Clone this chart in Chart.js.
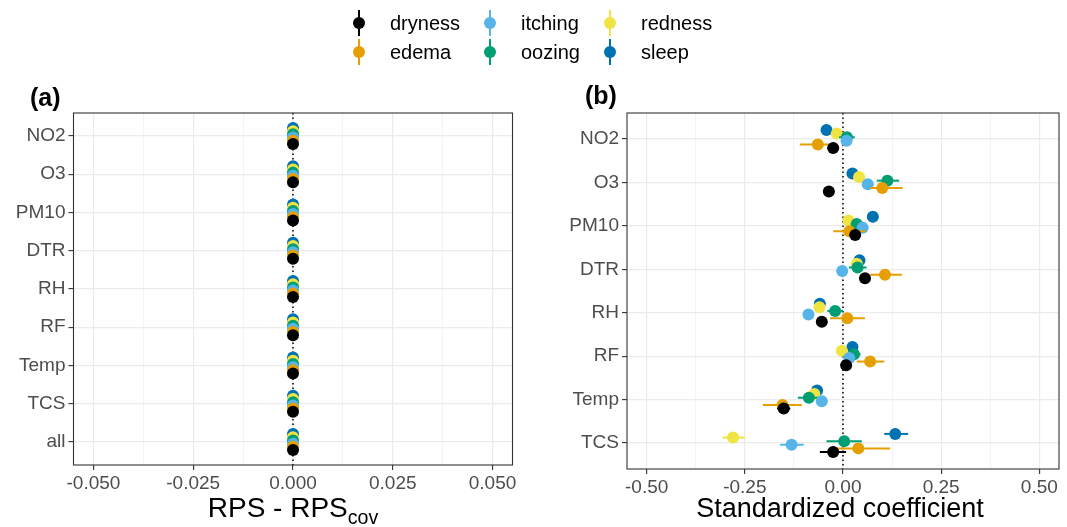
<!DOCTYPE html>
<html>
<head>
<meta charset="utf-8">
<script src="https://cdn.jsdelivr.net/npm/chart.js@4.4.0/dist/chart.umd.min.js"></script>
<style>
  body { margin: 0; background: #fff; font-family: "Liberation Sans", Arial, sans-serif; }
  #page { position: relative; width: 1067px; height: 527px; overflow: hidden; }
  .box { position: absolute; top: 0; height: 527px; }
  .txt { position: absolute; white-space: nowrap; color: #000; }
  .key { position: absolute; width: 12px; height: 26px; }
  .key .bar { position: absolute; left: 5px; top: 0; width: 2px; height: 26px; }
  .key .dot { position: absolute; left: 0; top: 7px; width: 12px; height: 12px; border-radius: 50%; }
</style>
</head>
<body>
<div id="page">
  <div class="box" style="left:0;width:530px"><canvas id="chartA"></canvas></div>
  <div class="box" style="left:530px;width:537px"><canvas id="chartB"></canvas></div>
  <div id="legend"></div>
  <div class="txt" style="left:30px;top:82px;font-size:25px;font-weight:bold;line-height:30px">(a)</div>
  <div class="txt" style="left:585px;top:80px;font-size:25px;font-weight:bold;line-height:30px">(b)</div>
  <div class="txt" style="left:293px;top:494px;font-size:28px;line-height:28px;transform:translateX(-50%)">RPS - RPS<span style="font-size:0.7em;position:relative;top:0.35em">cov</span></div>
  <div class="txt" style="left:840px;top:494px;font-size:27px;line-height:28px;transform:translateX(-50%)">Standardized coefficient</div>
</div>
<script>
// categories
const catsA = ['NO2', 'O3', 'PM10', 'DTR', 'RH', 'RF', 'Temp', 'TCS', 'all'];
const catsB = ['NO2', 'O3', 'PM10', 'DTR', 'RH', 'RF', 'Temp', 'TCS'];
const seriesNames = ['dryness', 'edema', 'itching', 'oozing', 'redness', 'sleep'];
const seriesColors = ['#000000', '#E69F00', '#56B4E9', '#009E73', '#F0E442', '#0072B2'];

// x tick labels
const ticksA = [-0.05, -0.025, 0, 0.025, 0.05];
const ticksB = [-0.5, -0.25, 0, 0.25, 0.5];

// panel (a): RPS - RPScov (all ~0)
const drynessA = [0, 0, 0, 0, 0, 0, 0, 0, 0];
const edemaA   = [0, 0, 0, 0, 0, 0, 0, 0, 0];
const itchingA = [0, 0, 0, 0, 0, 0, 0, 0, 0];
const oozingA  = [0, 0, 0, 0, 0, 0, 0, 0, 0];
const rednessA = [0, 0, 0, 0, 0, 0, 0, 0, 0];
const sleepA   = [0, 0, 0, 0, 0, 0, 0, 0, 0];

// panel (b): standardized coefficients, with lower / upper limits
const drynessB  = [-0.025, -0.036, 0.031, 0.056, -0.054, 0.008, -0.151, -0.025];
const drynessLo = [-0.040, -0.050, 0.017, 0.042, -0.068, -0.006, -0.168, -0.059];
const drynessHi = [-0.010, -0.022, 0.045, 0.070, -0.040, 0.022, -0.134, 0.008];

const edemaB  = [-0.064, 0.100, 0.016, 0.107, 0.011, 0.069, -0.154, 0.039];
const edemaLo = [-0.110, 0.069, -0.025, 0.069, -0.033, 0.035, -0.204, -0.033];
const edemaHi = [-0.020, 0.152, 0.057, 0.150, 0.056, 0.105, -0.105, 0.120];

const itchingB  = [0.009, 0.063, 0.050, -0.002, -0.088, 0.016, -0.054, -0.131];
const itchingLo = [-0.005, 0.050, 0.036, -0.016, -0.102, 0.002, -0.068, -0.160];
const itchingHi = [0.023, 0.077, 0.064, 0.012, -0.074, 0.030, -0.040, -0.100];

const oozingB  = [0.010, 0.113, 0.035, 0.037, -0.020, 0.028, -0.087, 0.003];
const oozingLo = [-0.010, 0.086, 0.020, 0.015, -0.040, 0.012, -0.115, -0.042];
const oozingHi = [0.030, 0.143, 0.050, 0.060, 0.000, 0.045, -0.060, 0.048];

const rednessB  = [-0.016, 0.041, 0.014, 0.035, -0.060, -0.003, -0.073, -0.280];
const rednessLo = [-0.030, 0.027, 0.000, 0.021, -0.074, -0.017, -0.087, -0.307];
const rednessHi = [-0.002, 0.055, 0.028, 0.049, -0.046, 0.011, -0.059, -0.250];

const sleepB  = [-0.042, 0.024, 0.076, 0.042, -0.059, 0.024, -0.066, 0.133];
const sleepLo = [-0.055, 0.010, 0.062, 0.028, -0.073, 0.010, -0.080, 0.105];
const sleepHi = [-0.029, 0.038, 0.090, 0.056, -0.045, 0.038, -0.052, 0.166];

const DODGE = 0.5;

// legend (html, two rows, column-major)
const legend = document.getElementById('legend');
seriesNames.forEach((name, i) => {
    const col = Math.floor(i / 2), row = i % 2;
    const kx = [359, 490, 610][col], ky = [23, 52][row];
    const key = document.createElement('div');
    key.className = 'key';
    key.style.left = (kx - 6) + 'px';
    key.style.top = (ky - 13) + 'px';
    key.innerHTML = '<div class="bar" style="background:' + seriesColors[i] + '"></div>' +
        '<div class="dot" style="background:' + seriesColors[i] + '"></div>';
    legend.appendChild(key);
    const t = document.createElement('div');
    t.className = 'txt';
    t.style.left = (kx + 31) + 'px';
    t.style.top = (ky - 12) + 'px';
    t.style.fontSize = '20px';
    t.style.lineHeight = '24px';
    t.textContent = name;
    legend.appendChild(t);
});

// zero line, error bars and panel border
const panelDecor = {
    id: 'panelDecor',
    beforeDatasetsDraw(chart) {
        const {ctx, chartArea: a, scales: {x}} = chart;
        const px = x.getPixelForValue(0);
        ctx.save();
        ctx.strokeStyle = '#000';
        ctx.lineWidth = 1.5;
        ctx.setLineDash([1.5, 3]);
        ctx.beginPath();
        ctx.moveTo(px, a.top);
        ctx.lineTo(px, a.bottom);
        ctx.stroke();
        ctx.restore();
    },
    beforeDatasetDraw(chart, args) {
        const ds = chart.data.datasets[args.index];
        if (!ds.errLo) return;
        const {ctx, scales: {x, y}} = chart;
        ctx.save();
        ctx.strokeStyle = ds.backgroundColor;
        ctx.lineWidth = 2;
        ds.data.forEach((p, j) => {
            const py = y.getPixelForValue(p.y);
            ctx.beginPath();
            ctx.moveTo(x.getPixelForValue(ds.errLo[j]), py);
            ctx.lineTo(x.getPixelForValue(ds.errHi[j]), py);
            ctx.stroke();
        });
        ctx.restore();
    },
    afterDraw(chart) {
        const {ctx, chartArea: a} = chart;
        ctx.save();
        ctx.strokeStyle = '#333333';
        ctx.lineWidth = 1.1;
        ctx.strokeRect(a.left, a.top, a.right - a.left, a.bottom - a.top);
        ctx.restore();
    }
};

function makeChart(id, cats, vals, los, his, majors, lim, digits, yWidth, xHeight, padRight) {
    const datasets = seriesNames.map((name, i) => ({
        label: name,
        data: vals[i].map((v, j) => ({x: v, y: j + (2.5 - i) * DODGE / 6})),
        errLo: los ? los[i] : null,
        errHi: his ? his[i] : null,
        backgroundColor: seriesColors[i],
        borderWidth: 0,
        pointRadius: 6,
        pointHoverRadius: 6
    }));
    return new Chart(document.getElementById(id), {
        type: 'scatter',
        data: {datasets: datasets},
        plugins: [panelDecor],
        options: {
            responsive: true,
            maintainAspectRatio: false,
            animation: false,
            events: [],
            layout: {padding: {top: 113, right: padRight, left: 0, bottom: 0}},
            plugins: {legend: {display: false}, tooltip: {enabled: false}},
            scales: {
                x: {
                    type: 'linear',
                    min: -lim,
                    max: lim,
                    afterBuildTicks: scale => {
                        const t = [];
                        majors.forEach((m, k) => {
                            t.push({value: m});
                            if (k < majors.length - 1) t.push({value: (m + majors[k + 1]) / 2});
                        });
                        scale.ticks = t;
                    },
                    afterFit: scale => { scale.height = xHeight; },
                    border: {display: false},
                    grid: {
                        color: '#ebebeb',
                        lineWidth: c => (c.index % 2 === 0 ? 1.2 : 0.6),
                        tickColor: c => (c.index % 2 === 0 ? '#333333' : 'rgba(0,0,0,0)'),
                        tickWidth: 1.1,
                        tickLength: 5
                    },
                    ticks: {
                        autoSkip: false,
                        maxRotation: 0,
                        padding: 2,
                        color: '#4d4d4d',
                        font: {family: 'Liberation Sans', size: 19},
                        callback: (v, i) => (i % 2 === 0 ? v.toFixed(digits) : '')
                    }
                },
                y: {
                    type: 'linear',
                    reverse: true,
                    min: -0.6,
                    max: cats.length - 1 + 0.6,
                    afterBuildTicks: scale => {
                        scale.ticks = cats.map((c, i) => ({value: i}));
                    },
                    afterFit: scale => { scale.width = yWidth; },
                    border: {display: false},
                    grid: {
                        color: '#ebebeb',
                        lineWidth: 1.2,
                        tickColor: '#333333',
                        tickWidth: 1.1,
                        tickLength: 5
                    },
                    ticks: {
                        autoSkip: false,
                        padding: 3,
                        color: '#4d4d4d',
                        font: {family: 'Liberation Sans', size: 19},
                        callback: v => cats[Math.round(v)]
                    }
                }
            }
        }
    });
}

makeChart('chartA', catsA,
    [drynessA, edemaA, itchingA, oozingA, rednessA, sleepA], null, null,
    ticksA, 0.055, 3, 73.5, 62, 17.5);

makeChart('chartB', catsB,
    [drynessB, edemaB, itchingB, oozingB, rednessB, sleepB],
    [drynessLo, edemaLo, itchingLo, oozingLo, rednessLo, sleepLo],
    [drynessHi, edemaHi, itchingHi, oozingHi, rednessHi, sleepHi],
    ticksB, 0.55, 2, 97, 58, 8);
</script>
</body>
</html>
